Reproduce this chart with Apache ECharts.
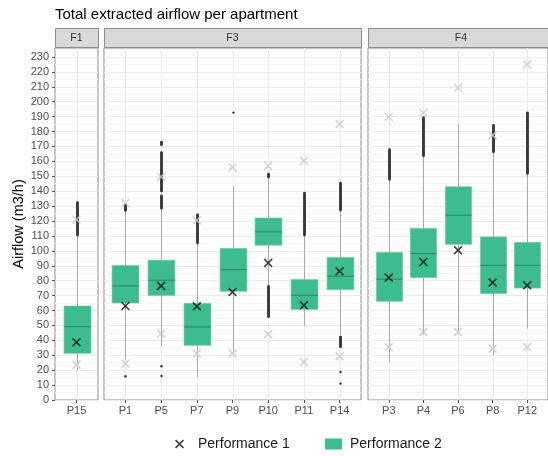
<!DOCTYPE html>
<html>
<head>
<meta charset="utf-8">
<script src="https://cdn.jsdelivr.net/npm/echarts@6/dist/echarts.min.js"></script>
<style>
  html, body { margin: 0; padding: 0; background: #fff; }
  #chart { width: 548px; height: 456px; }
</style>
</head>
<body>
<div id="chart"></div>
<script>
// ---- data -------------------------------------------------------------
const facetNames = ['F1', 'F3', 'F4'];

const catsF1 = ['P15'];
const catsF3 = ['P1', 'P5', 'P7', 'P9', 'P10', 'P11', 'P14'];
const catsF4 = ['P3', 'P4', 'P6', 'P8', 'P12'];

// box statistics: [lower whisker, Q1, median, Q3, upper whisker]
const boxF1 = [[20, 31.3, 49.2, 63, 110.5]];
const boxF3 = [
  [27, 65.1, 76.5, 90.1, 127],
  [36, 70.2, 80.3, 93.7, 128.4],
  [15.4, 36.7, 49, 64.7, 105.3],
  [32, 72.9, 87.5, 101.5, 143.3],
  [77, 103.8, 112.7, 122, 149.3],
  [49.4, 60.8, 70.2, 80.7, 110.5],
  [43, 74, 83, 95.5, 127.2]
];
const boxF4 = [
  [25, 66.2, 81, 98.9, 147.8],
  [44, 82.1, 98.2, 114.9, 163.6],
  [47, 104.4, 123.9, 142.9, 184.9],
  [30, 71.4, 90.3, 109.3, 166.3],
  [47.9, 75.1, 90.3, 105.6, 151.8]
];

// Performance 1 value per apartment
const perf1F1 = [38.7];
const perf1F3 = [63, 76.5, 62.8, 72.4, 91.9, 63.5, 86.3];
const perf1F4 = [82.1, 92.6, 100.4, 78.7, 76.9];

// reference limits (light crosses): low / high
const refLowF1 = [23.5];
const refHighF1 = [121];
const refLowF3 = [24.4, 44.5, 31.1, 31.1, 44.1, 25.5, 29.3];
const refHighF3 = [132, 149.6, 120.5, 155.9, 157, 160.3, 184.9];
const refLowF4 = [35.5, 45.6, 45.6, 34.5, 35.5];
const refHighF4 = [189.8, 192.5, 209.3, 177.5, 225];

// outliers: [from, to] runs of densely packed points (single points have from == to)
const outliersF1 = [[[110.5, 132.4]]];
const outliersF3 = [
  [[127, 131], [15.9, 15.9]],
  [[171, 173], [140, 166], [128.4, 137], [22.6, 22.6], [16.1, 16.1]],
  [[105.3, 124.3]],
  [[192.7, 192.7]],
  [[149.3, 151.5], [55.7, 76.3]],
  [[110.5, 138.8]],
  [[127.2, 145.5], [35.5, 42.3], [18.8, 18.8], [11, 11]]
];
const outliersF4 = [
  [[147.8, 167.9]],
  [[163.6, 189.4]],
  [],
  [[166.3, 184.2]],
  [[151.8, 192.7]]
];

const yTicks = [0, 10, 20, 30, 40, 50, 60, 70, 80, 90, 100, 110, 120,
                130, 140, 150, 160, 170, 180, 190, 200, 210, 220, 230];

// ---- layout & style -----------------------------------------------------
const FONT = '"Liberation Sans", Arial, Helvetica, sans-serif';
const GREEN = '#3dbd8d';
const MEDIAN = '#2b8a66';
const WHISKER = '#a8a8a8';
const GRIDC = '#ebebeb';
const BORDER = '#8c8c8c';
const PLOT_TOP = 48, PLOT_H = 352, STRIP_H = 20;
const panelLeft = [55, 104, 368];
const panelWidth = [43, 257, 186];
const Y_MAX = 236;
const CROSS = 'path://M0,1.27L1.27,0L5,3.73L8.73,0L10,1.27L6.27,5L10,8.73L8.73,10L5,6.27L1.27,10L0,8.73L3.73,5Z';

const facets = [
  { cats: catsF1, box: boxF1, perf1: perf1F1, low: refLowF1, high: refHighF1, out: outliersF1 },
  { cats: catsF3, box: boxF3, perf1: perf1F3, low: refLowF3, high: refHighF3, out: outliersF3 },
  { cats: catsF4, box: boxF4, perf1: perf1F4, low: refLowF4, high: refHighF4, out: outliersF4 }
];

function renderBox(params, api) {
  const x = api.value(0);
  const cs = params.coordSys;
  const band = api.size([1, 0])[0];
  const bw = band * 0.75;
  const pLo = api.coord([x, api.value(1)]);
  const pQ1 = api.coord([x, api.value(2)]);
  const pMed = api.coord([x, api.value(3)]);
  const pQ3 = api.coord([x, api.value(4)]);
  const pHi = api.coord([x, api.value(5)]);
  const cx = Math.round(pLo[0]) + 0.5;
  return {
    type: 'group',
    children: [
      { type: 'line', silent: true,
        shape: { x1: cx, y1: cs.y, x2: cx, y2: cs.y + cs.height },
        style: { stroke: GRIDC, lineWidth: 1 } },
      { type: 'line',
        shape: { x1: cx, y1: pLo[1], x2: cx, y2: pHi[1] },
        style: { stroke: WHISKER, lineWidth: 1 } },
      { type: 'rect',
        shape: { x: cx - bw / 2, y: pQ3[1], width: bw, height: pQ1[1] - pQ3[1] },
        style: { fill: GREEN, stroke: '#62c9a2', lineWidth: 0.7 } },
      { type: 'line',
        shape: { x1: cx - bw / 2, y1: pMed[1], x2: cx + bw / 2, y2: pMed[1] },
        style: { stroke: MEDIAN, lineWidth: 1.1 } }
    ]
  };
}

function renderOutlier(params, api) {
  const x = api.value(0);
  const a = api.coord([x, api.value(1)]);
  const b = api.coord([x, api.value(2)]);
  const cx = Math.round(a[0]) + 0.5;
  const top = Math.min(a[1], b[1]);
  const h = Math.abs(a[1] - b[1]);
  if (h < 0.5) {
    return { type: 'circle', shape: { cx: cx, cy: a[1], r: 1.2 }, style: { fill: '#333' } };
  }
  return {
    type: 'rect',
    shape: { x: cx - 1.4, y: top - 1.2, width: 2.8, height: h + 2.4, r: 1.4 },
    style: { fill: '#333' }
  };
}

const grid = [], xAxis = [], yAxis = [], series = [], graphic = [];

facets.forEach((f, i) => {
  const n = f.cats.length;
  const idx = f.cats.map((_, k) => k);
  grid.push({
    left: panelLeft[i], top: PLOT_TOP, width: panelWidth[i], height: PLOT_H,
    show: true, backgroundColor: '#fff', borderColor: BORDER, borderWidth: 1
  });
  xAxis.push({
    type: 'value', gridIndex: i, min: -0.6, max: n - 0.4,
    splitLine: { show: false },
    axisLine: { show: false, onZero: false },
    axisTick: { show: true, customValues: idx, length: 3, lineStyle: { color: '#4d4d4d' } },
    axisLabel: {
      customValues: idx, margin: 5,
      formatter: v => f.cats[Math.round(v)],
      color: '#4d4d4d', fontSize: 11, fontFamily: FONT
    }
  });
  yAxis.push({
    type: 'value', gridIndex: i, min: 0, max: Y_MAX, interval: 10,
    axisLine: { show: false, onZero: false },
    axisTick: { show: i === 0, customValues: yTicks, length: 3, lineStyle: { color: '#4d4d4d' } },
    axisLabel: { show: i === 0, customValues: yTicks, margin: 6, color: '#4d4d4d', fontSize: 11, fontFamily: FONT },
    splitLine: { show: true, lineStyle: { color: GRIDC, width: 1 } },
    minorTick: { show: false, splitNumber: 2 },
    minorSplitLine: { show: true, lineStyle: { color: '#f5f5f5', width: 1 } },
    name: i === 0 ? 'Airflow (m3/h)' : '',
    nameLocation: 'middle', nameRotate: 90, nameGap: 28,
    nameTextStyle: { fontSize: 14.5, color: '#000', fontFamily: FONT }
  });

  series.push({
    name: 'Performance 2', type: 'custom', xAxisIndex: i, yAxisIndex: i, z: 2,
    itemStyle: { color: GREEN },
    renderItem: renderBox,
    data: f.box.map((b, k) => [k].concat(b))
  });

  const runs = [];
  f.out.forEach((list, k) => list.forEach(r => runs.push([k, r[0], r[1]])));
  series.push({
    name: 'outliers', type: 'custom', xAxisIndex: i, yAxisIndex: i, z: 3,
    renderItem: renderOutlier, data: runs
  });

  const refPts = [];
  f.low.forEach((v, k) => refPts.push([k, v]));
  f.high.forEach((v, k) => refPts.push([k, v]));
  series.push({
    name: 'reference', type: 'scatter', xAxisIndex: i, yAxisIndex: i, z: 4,
    symbol: CROSS, symbolSize: 9, itemStyle: { color: '#c8c8c8' },
    data: refPts
  });

  series.push({
    name: 'Performance 1', type: 'scatter', xAxisIndex: i, yAxisIndex: i, z: 5,
    symbol: CROSS, symbolSize: 9, itemStyle: { color: '#111' },
    data: f.perf1.map((v, k) => [k, v])
  });

  // facet strip
  graphic.push({
    type: 'rect', z: 10, silent: true,
    shape: { x: panelLeft[i] + 0.5, y: PLOT_TOP - STRIP_H + 0.5, width: panelWidth[i], height: STRIP_H - 1 },
    style: { fill: '#d9d9d9', stroke: BORDER, lineWidth: 1 }
  });
  graphic.push({
    type: 'text', z: 11, silent: true,
    x: panelLeft[i] + panelWidth[i] / 2, y: PLOT_TOP - STRIP_H / 2,
    style: { text: facetNames[i], fill: '#333', font: '10.5px ' + FONT, align: 'center', verticalAlign: 'middle' }
  });
});

const chart = echarts.init(document.getElementById('chart'), null, { renderer: 'canvas' });
chart.setOption({
  animation: false,
  backgroundColor: '#fff',
  title: {
    text: 'Total extracted airflow per apartment',
    left: 55, top: 7, padding: 0,
    textStyle: { fontSize: 15, fontWeight: 'normal', color: '#000', fontFamily: FONT }
  },
  legend: [
    {
      data: [{ name: 'Performance 1', icon: CROSS }],
      left: 175, top: 437, padding: 0, itemWidth: 9, itemHeight: 9,
      selectedMode: false,
      textStyle: { fontSize: 14, color: '#1a1a1a', fontFamily: FONT, padding: [0, 0, 0, 9] }
    },
    {
      data: [{ name: 'Performance 2', icon: 'rect' }],
      left: 325, top: 437, padding: 0, itemWidth: 17, itemHeight: 11,
      selectedMode: false,
      textStyle: { fontSize: 14, color: '#1a1a1a', fontFamily: FONT, padding: [0, 0, 0, 3] }
    }
  ],
  grid: grid,
  xAxis: xAxis,
  yAxis: yAxis,
  series: series,
  graphic: graphic
});
</script>
</body>
</html>
